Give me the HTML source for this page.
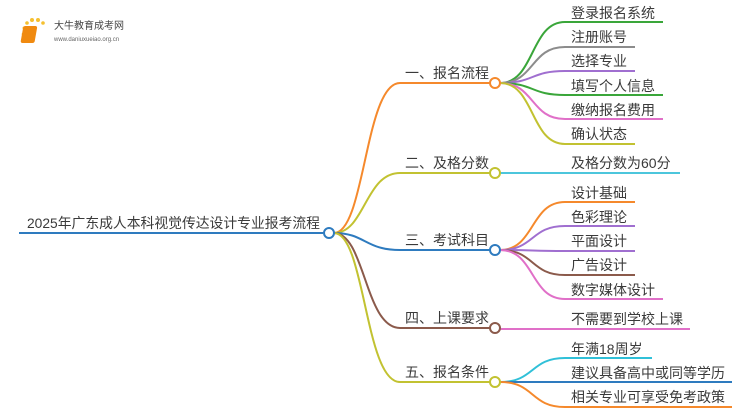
<!DOCTYPE html>
<html><head><meta charset="utf-8"><style>
body{margin:0;background:#fff}
svg text{font-family:"Liberation Sans","Noto Sans CJK SC",sans-serif;fill:#3a3a3a}
</style></head><body>
<svg width="750" height="410" viewBox="0 0 750 410" xmlns="http://www.w3.org/2000/svg">
<g fill="none" stroke-width="2">
<line x1="19" y1="233" x2="323" y2="233" stroke="#2e7bbf"/>
<path d="M334,233 C365,233 365,83 400,83 L490,83" stroke="#f5892c"/>
<path d="M334,233 C365,233 365,173 400,173 L490,173" stroke="#c2c231"/>
<path d="M334,233 C365,233 365,250 400,250 L490,250" stroke="#2e7bbf"/>
<path d="M334,233 C365,233 365,328 400,328 L490,328" stroke="#8b5a4b"/>
<path d="M334,233 C365,233 365,382 400,382 L490,382" stroke="#c2c231"/>
<path d="M500,83 C535,83 530,22 565,22 L663,22" stroke="#3aa63a"/>
<path d="M500,83 C535,83 530,47 565,47 L635,47" stroke="#8c8c8c"/>
<path d="M500,83 C535,83 530,71 565,71 L635,71" stroke="#a06fd0"/>
<path d="M500,83 C535,83 530,95 565,95 L663,95" stroke="#3aa63a"/>
<path d="M500,83 C535,83 530,119 565,119 L663,119" stroke="#e070c8"/>
<path d="M500,83 C535,83 530,144 565,144 L635,144" stroke="#c2c231"/>
<path d="M500,173 L680,173" stroke="#4cc6dc"/>
<path d="M500,250 C535,250 530,202 565,202 L635,202" stroke="#f5892c"/>
<path d="M500,250 C535,250 530,226 565,226 L635,226" stroke="#a06fd0"/>
<path d="M500,250 C535,250 530,251 565,251 L635,251" stroke="#a06fd0"/>
<path d="M500,250 C535,250 530,275 565,275 L635,275" stroke="#8b5a4b"/>
<path d="M500,250 C535,250 530,299 565,299 L663,299" stroke="#e070c8"/>
<path d="M500,329 L690,329" stroke="#e070c8"/>
<path d="M500,382 C535,382 530,358 565,358 L652,358" stroke="#30c0d8"/>
<path d="M500,382 L732,382" stroke="#2e7bbf"/>
<path d="M500,382 C535,382 530,407 565,407 L732,407" stroke="#f5892c"/>
</g>
<g fill="#fff" stroke-width="2">
<circle cx="329" cy="233" r="5" stroke="#2e7bbf"/>
<circle cx="495" cy="83" r="5" stroke="#f5892c"/>
<circle cx="495" cy="173" r="5" stroke="#c2c231"/>
<circle cx="495" cy="250" r="5" stroke="#2e7bbf"/>
<circle cx="495" cy="328" r="5" stroke="#8b5a4b"/>
<circle cx="495" cy="382" r="5" stroke="#c2c231"/>
</g>
<g font-size="14">
<text x="27" y="228" textLength="293" lengthAdjust="spacingAndGlyphs">2025年广东成人本科视觉传达设计专业报考流程</text>
<text x="405" y="78">一、报名流程</text>
<text x="405" y="168">二、及格分数</text>
<text x="405" y="245">三、考试科目</text>
<text x="405" y="323">四、上课要求</text>
<text x="405" y="377">五、报名条件</text>
<text x="571" y="18">登录报名系统</text>
<text x="571" y="42">注册账号</text>
<text x="571" y="66">选择专业</text>
<text x="571" y="91">填写个人信息</text>
<text x="571" y="115">缴纳报名费用</text>
<text x="571" y="139">确认状态</text>
<text x="571" y="168">及格分数为60分</text>
<text x="571" y="198">设计基础</text>
<text x="571" y="222">色彩理论</text>
<text x="571" y="246">平面设计</text>
<text x="571" y="270">广告设计</text>
<text x="571" y="295">数字媒体设计</text>
<text x="571" y="324">不需要到学校上课</text>
<text x="571" y="354">年满18周岁</text>
<text x="571" y="378">建议具备高中或同等学历</text>
<text x="571" y="402">相关专业可享受免考政策</text>
</g>
<g>
<circle cx="24" cy="28" r="1.5" fill="#f5c030"/><circle cx="27" cy="23" r="1.8" fill="#f5c030"/>
<circle cx="32" cy="20" r="2" fill="#f5c030"/><circle cx="38" cy="20" r="2" fill="#f5c030"/>
<circle cx="43" cy="23" r="1.8" fill="#f5c030"/><circle cx="23" cy="34" r="1.3" fill="#f5c030"/>
<rect x="28" y="26" width="14" height="17" rx="2" fill="#f08a10" transform="skewX(-10)"/>
<text x="54" y="29" font-size="10" style="fill:#444">大牛教育成考网</text>
<text x="54" y="41" font-size="6" style="fill:#666">www.daniuxueiao.org.cn</text>
</g>
</svg>
</body></html>
